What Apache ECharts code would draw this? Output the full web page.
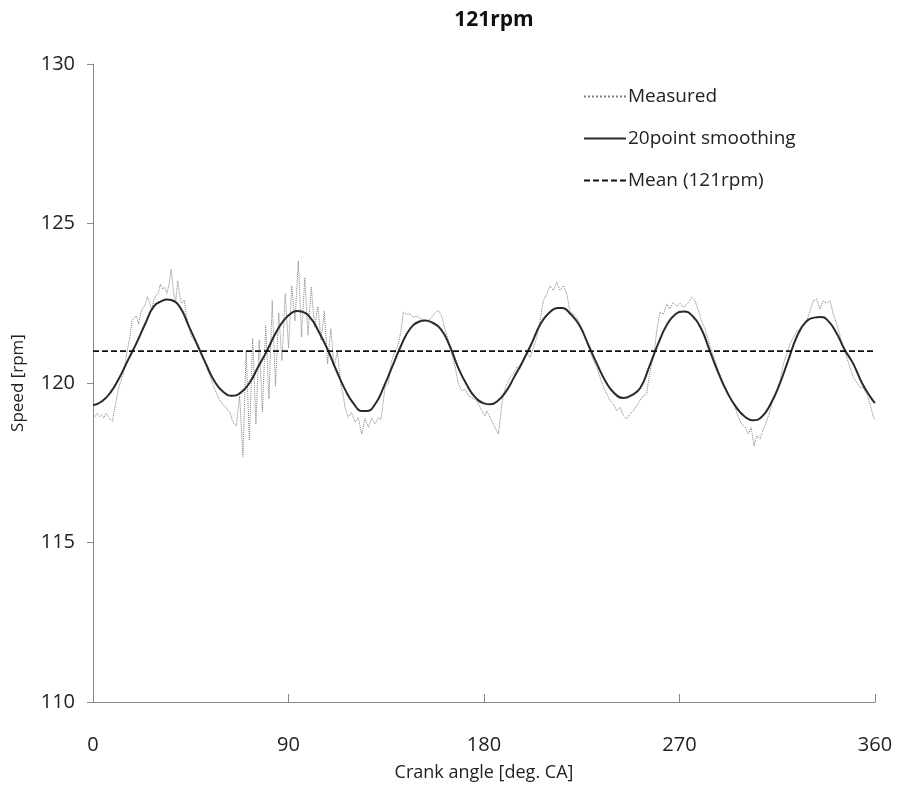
<!DOCTYPE html>
<html>
<head>
<meta charset="utf-8">
<script src="https://cdn.jsdelivr.net/npm/echarts@6/dist/echarts.min.js"></script>
<style>
html,body{margin:0;padding:0;background:#fff;}
#chart{width:898px;height:787px;}
</style>
</head>
<body>
<div id="chart"></div>
<script>
const titleText = '121rpm';
const xTicks = [0, 90, 180, 270, 360];
const yTicks = [110, 115, 120, 125, 130];
const seriesNames = ['Measured', '20point smoothing', 'Mean (121rpm)'];

// Measured speed [deg CA, rpm]
const measured = [
  [0,119.0],[1,118.95],[2,119.05],[3,118.95],[4,119.0],[5,118.9],[6,119.05],[7,118.95],[8,118.85],[9,118.8],
  [10,119.2],[11,119.55],[12,119.9],[13,120.1],[14,120.3],[15,120.7],[16,121.1],[17,121.45],[18,121.95],[19,122.05],
  [20,122.1],[21,121.85],[22,122.2],[23,122.35],[24,122.45],[25,122.7],[26,122.55],[27,122.3],[28,122.6],[29,122.75],
  [30,122.8],[31,123.1],[32,122.95],[33,123.0],[34,122.8],[35,123.1],[36,123.57],[37,122.9],[38,122.5],[39,123.2],
  [40,122.7],[41,122.5],[42,122.6],[43,122.1],[44,121.85],[45,121.5],[46,121.4],[47,121.3],[48,121.2],[49,121.05],
  [50,120.9],[51,120.75],[52,120.55],[53,120.35],[54,120.2],[55,120.0],[56,119.8],[57,119.66],[58,119.5],[59,119.4],
  [60,119.3],[61,119.25],[62,119.15],[63,119.1],[64,118.85],[65,118.7],
  [66,118.66],[67.5,119.6],[69,117.7],[70.5,121.0],[72,118.2],[73.5,121.4],[75,118.7],[76.5,121.35],[78,119.1],
  [79.5,121.8],[81,119.5],[82.5,122.58],[84,119.9],[85.5,122.2],[87,120.7],[88.5,122.8],[90,121.1],[91.5,123.05],
  [93,121.95],[94.5,123.83],[96,121.45],[97.5,123.3],[99,121.5],[100.5,123.0],[102,121.75],[103.5,122.4],[105,121.35],
  [106.5,122.25],[108,120.6],[109.5,121.7],[111,120.5],[112.5,121.0],[114,120.0],[115,119.7],
  [116,119.24],[117.5,118.92],[119,119.07],[120.6,118.77],[122.1,118.92],[123.7,118.4],[125.2,118.88],[126.8,118.61],
  [128.3,118.9],[129.8,118.72],[131.4,118.92],[132.5,118.85],[133.7,119.45],[134.4,119.87],[136,119.97],[136.7,120.39],
  [137.5,120.7],[139,120.97],[140.6,121.22],[141.8,121.64],[142.9,122.22],[144.4,122.16],[145.9,122.16],[147.5,122.06],
  [149,122.1],[151.3,122.0],[153.6,121.93],[155.9,122.06],[157.4,122.2],[159,122.27],[160.5,122.1],[162,121.7],
  [163.6,121.33],[165.1,120.91],[166.7,120.5],[168.2,119.97],[169.7,119.76],[171.3,119.8],[172.8,119.6],[174.3,119.55],
  [176.6,119.45],[179,119.13],[180.5,118.97],[181.3,119.13],[182.8,118.92],[184.3,118.71],[185.9,118.5],[186.6,118.4],
  [187.4,118.8],[188.2,119.34],[189,119.66],[190.5,119.97],[192.1,120.18],[193.5,120.28],[195.1,120.5],[196.6,120.44],
  [198.1,120.7],[199.7,120.97],[201.2,120.8],[202.7,121.1],[204.3,121.43],[205.8,121.95],[207.3,122.58],[208.9,122.79],
  [210.4,123.05],[211.9,122.9],[213.5,123.16],[215,122.9],[216.6,123.05],[218.1,122.79],[218.8,122.53],[219.6,122.22],
  [221.2,122.16],[222.7,122.06],[224.2,121.85],[225.7,121.59],[227.3,121.33],[228.8,121.01],[230.4,120.7],[231.9,120.49],
  [233.4,120.18],[235,119.87],[236.5,119.66],[238,119.45],[239.6,119.34],[241.1,119.13],[242.6,119.24],[244.2,118.97],
  [245.7,118.87],[247.2,119.03],[248.8,119.13],[250.3,119.29],[251.8,119.45],[253.4,119.6],[254.9,119.66],[255.7,120.07],
  [257.2,120.6],[258.7,121.12],[259.5,121.64],[261,122.22],[262.6,122.16],[264.1,122.48],[265.6,122.32],[267.2,122.53],
  [268.7,122.4],[270.2,122.5],[271.8,122.37],[273,122.45],[274.3,122.53],[275.6,122.69],[277,122.6],[278.7,122.27],
  [280.2,121.95],[281.7,121.7],[283.3,121.33],[284.8,121.01],[286.4,120.7],[287.9,120.39],[289.4,120.13],[291,119.87],
  [292.5,119.66],[294,119.45],[295.6,119.24],[297.1,118.92],[298.7,118.71],[300.2,118.61],[301.7,118.4],[303,118.6],
  [304.3,118.03],[305.6,118.35],[307.1,118.24],[308.6,118.56],[310.2,118.82],[311.7,119.13],[313.2,119.55],[314.8,119.76],
  [316.3,120.07],[317.8,120.6],[319.4,120.91],[320.9,121.22],[322.4,121.43],[324,121.64],[325.5,121.69],[327,121.85],
  [328.6,121.95],[330.1,122.27],[331.6,122.58],[333.1,122.62],[334.7,122.32],[336.2,122.58],[337.7,122.5],[339.3,122.58],
  [340.8,122.16],[342.4,121.85],[343.9,121.48],[345.4,121.12],[347,120.8],[348.5,120.49],[350,120.18],[351.6,120.02],
  [353.1,119.87],[354.6,119.85],[356.2,119.66],[357.7,119.34],[359.3,118.92],[360,118.85]
];

// 20-point smoothing [deg CA, rpm]
const smoothed = [
  [0,119.30],[4,119.42],[8,119.7],[12,120.15],[16,120.7],[20,121.25],[24,121.85],[28,122.4],[32,122.58],[34,122.62],
  [36,122.6],[40,122.38],[44,121.8],[48,121.2],[52,120.6],[56,120.05],[60,119.72],[64,119.6],[68,119.7],[72,120.0],
  [76,120.5],[80,121.0],[84,121.55],[88,121.98],[92,122.22],[94,122.26],[96,122.24],[100,122.05],[104,121.6],[108,121.05],
  [112,120.4],[116,119.8],[120,119.35],[124,119.12],[126,119.12],[130,119.35],[134,119.9],[138,120.55],[142,121.2],[146,121.7],
  [150,121.92],[153,121.96],[156,121.9],[160,121.7],[164,121.2],[168,120.5],[172,119.95],[176,119.55],[180,119.36],[183,119.33],
  [186,119.42],[190,119.72],[194,120.2],[198,120.7],[202,121.25],[206,121.85],[210,122.2],[214,122.35],[216,122.35],[220,122.15],
  [224,121.8],[228,121.2],[232,120.6],[236,120.05],[240,119.68],[244,119.53],[248,119.62],[252,119.85],[256,120.5],[260,121.2],
  [264,121.8],[268,122.15],[272,122.24],[276,122.1],[280,121.7],[284,121.0],[288,120.3],[292,119.7],[296,119.25],[300,118.95],
  [304,118.83],[308,118.95],[312,119.35],[316,119.95],[320,120.7],[324,121.45],[328,121.9],[332,122.05],[335,122.07],[338,121.98],
  [342,121.6],[346,121.05],[350,120.6],[354,120.0],[358,119.55],[360,119.37]
];

const meanAngles = [0, 360];
const meanSpeed = 121;

const FONT = 'Open Sans';
const chart = echarts.init(document.getElementById('chart'), null, {renderer: 'canvas'});
chart.setOption({
  backgroundColor: '#ffffff',
  animation: false,
  title: {
    text: titleText,
    left: 489, top: 5, textAlign: 'center',
    textStyle: {fontFamily: FONT, fontSize: 21, fontWeight: 'bold', color: '#111'}
  },
  legend: {
    orient: 'vertical',
    left: 578, top: 82,
    itemWidth: 42, itemHeight: 14, itemGap: 23,
    itemStyle: {opacity: 0},
    data: seriesNames,
    textStyle: {fontFamily: FONT, fontSize: 19, color: '#222', padding: [0,0,0,-3]}
  },
  grid: {left: 93, right: 23, top: 64, bottom: 84, containLabel: false},
  xAxis: {
    type: 'value', min: xTicks[0], max: xTicks[xTicks.length-1], interval: 90,
    name: 'Crank angle [deg. CA]', nameLocation: 'middle', nameGap: 62,
    nameTextStyle: {fontFamily: FONT, fontSize: 18, color: '#222'},
    axisLine: {lineStyle: {color: '#888', width: 1}},
    axisTick: {show: true, inside: true, length: 8, lineStyle: {color: '#888'}},
    axisLabel: {fontFamily: FONT, fontSize: 20, color: '#222', margin: 33},
    splitLine: {show: false}
  },
  yAxis: {
    type: 'value', min: yTicks[0], max: yTicks[yTicks.length-1], interval: 5,
    name: 'Speed [rpm]', nameLocation: 'middle', nameGap: 66,
    nameTextStyle: {fontFamily: FONT, fontSize: 17, color: '#222'},
    axisLine: {show: true, lineStyle: {color: '#888', width: 1}},
    axisTick: {show: true, inside: false, length: 6, lineStyle: {color: '#888'}},
    axisLabel: {fontFamily: FONT, fontSize: 20, color: '#222', margin: 18},
    splitLine: {show: false}
  },
  series: [
    {
      name: seriesNames[0], type: 'line', data: measured,
      symbol: 'none', smooth: false,
      lineStyle: {color: '#808080', width: 1, type: 'dotted'},
      itemStyle: {color: '#808080'}, z: 2
    },
    {
      name: seriesNames[1], type: 'line', data: smoothed,
      symbol: 'none', smooth: 0.5,
      lineStyle: {color: '#2a2a2a', width: 2, type: 'solid'},
      itemStyle: {color: '#2a2a2a'}, z: 3
    },
    {
      name: seriesNames[2], type: 'line',
      data: meanAngles.map(a => [a, meanSpeed]),
      symbol: 'none',
      lineStyle: {color: '#111', width: 1.6, type: [6, 3]},
      itemStyle: {color: '#111'}, z: 4
    }
  ]
});
</script>
</body>
</html>
